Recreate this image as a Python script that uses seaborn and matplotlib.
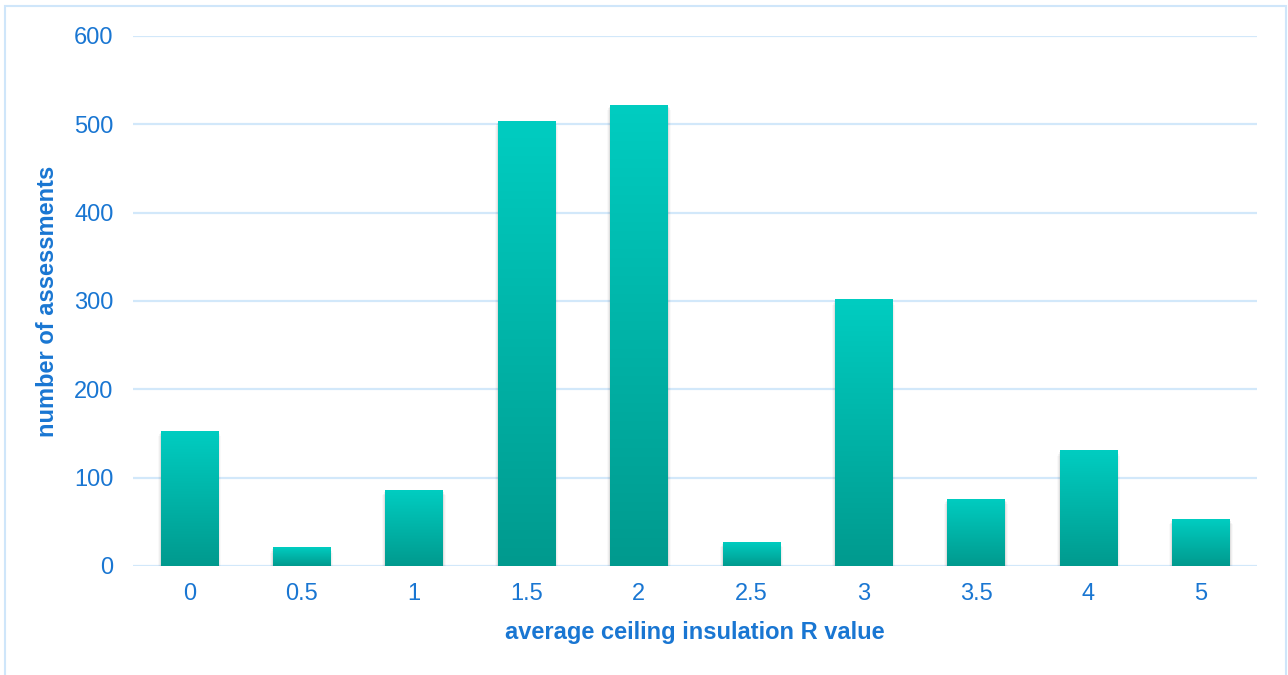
import numpy as np
import pandas as pd
import matplotlib
matplotlib.use("Agg")
import matplotlib.pyplot as plt
import seaborn as sns
from matplotlib.colors import LinearSegmentedColormap
from matplotlib.patches import Rectangle

categories = ["0", "0.5", "1", "1.5", "2", "2.5", "3", "3.5", "4", "5"]
counts = [153, 21, 86, 504, 522, 27, 302, 76, 131, 53]
y_ticks = [0, 100, 200, 300, 400, 500, 600]

df = pd.DataFrame({"R": categories, "n": counts})

sns.set_theme(style="white")
plt.rcParams['font.family'] = ['Liberation Sans', 'DejaVu Sans']

text_color = "#1976D2"
grid_color = "#D2E8FA"

fig = plt.figure(figsize=(12.88, 6.75), dpi=100)
fig.patch.set_facecolor("white")
ax = fig.add_axes([0.1033, 0.1615, 0.8727, 0.7852])

sns.barplot(data=df, x="R", y="n", ax=ax, width=0.51, color="#00B3A6",
            order=categories, zorder=3)

ax.set_ylim(0, 600)
ax.set_yticks(y_ticks)
ax.set_xlim(-0.5, len(categories) - 0.5)
for s in ax.spines.values():
    s.set_visible(False)
ax.grid(axis="y", color=grid_color, linewidth=1.6, zorder=0)
ax.set_axisbelow(True)
ax.tick_params(axis="both", colors=text_color, labelsize=17, length=0)
ax.tick_params(axis="x", pad=12)
ax.tick_params(axis="y", pad=14)
ax.set_xlabel("average ceiling insulation R value", color=text_color,
              fontsize=17, fontweight="bold", labelpad=12)
ax.set_ylabel("number of assessments", color=text_color,
              fontsize=17, fontweight="bold", labelpad=11)

cmap = LinearSegmentedColormap.from_list("g", ["#009A8E", "#00CDC1"])
grad = np.linspace(0, 1, 256).reshape(-1, 1)
for p in list(ax.patches):
    x0, y0 = p.get_x(), p.get_y()
    w, h = p.get_width(), p.get_height()
    # soft shadow around the bar
    for k, a in enumerate([0.06, 0.04, 0.025]):
        d = 0.009 * (k + 1)
        sh = Rectangle((x0 - d, y0 - 1.0 - k * 0.6), w + 2 * d,
                       h + 1.0 + k * 0.6 - (k + 1) * 2.0,
                       facecolor="#000000", alpha=a, edgecolor="none", zorder=2)
        ax.add_patch(sh)
    p.set_facecolor("none")
    p.set_edgecolor("none")
    im = ax.imshow(grad, cmap=cmap, origin="lower", aspect="auto",
                   extent=[x0, x0 + w, y0, y0 + h], zorder=3,
                   interpolation="bilinear")
    im.set_clip_path(p)

ax.set_xlim(-0.5, len(categories) - 0.5)
ax.set_ylim(0, 600)

border = Rectangle((5 / 1288, -0.01), 1281 / 1288, 1 - 6 / 675 + 0.01,
                   transform=fig.transFigure, fill=False,
                   edgecolor="#CFE6FA", linewidth=1.5)
fig.patches.append(border)

fig.savefig("out.png", dpi=100)
